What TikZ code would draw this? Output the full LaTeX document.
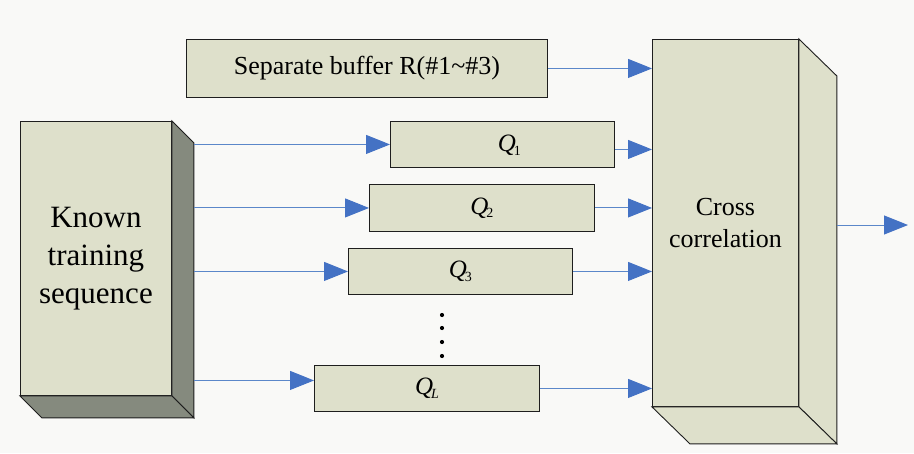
\documentclass[tikz,border=0pt]{standalone}
\usepackage{fontspec}
\setmainfont{Liberation Serif}
\newfontfamily\timesface{Liberation Serif}
\usetikzlibrary{arrows.meta,calc}
\definecolor{boxfill}{HTML}{DEE0CB}
\definecolor{boxdark}{HTML}{858A7E}
\definecolor{edge}{HTML}{1E1E1E}
\definecolor{wire}{HTML}{5B87C9}
\definecolor{tipblue}{HTML}{4472C4}
\definecolor{paper}{HTML}{F9F9F7}
\tikzset{
  block/.style={draw=edge, fill=boxfill, line width=0.9pt, rectangle,
    anchor=north west, inner sep=0pt},
  face/.style={draw=edge, line width=0.9pt, line join=miter},
  wirearrow/.style={draw=wire, line width=1pt,
    -{Triangle[length=24pt,width=19pt,color=tipblue]}},
  qlabel/.style={font=\timesface\fontsize{25}{26}\selectfont\itshape},
}
\newcommand{\qsub}[2]{#1\kern-2pt\raisebox{-0.3ex}{\fontsize{14}{14}\selectfont\upshape #2}}
\begin{document}
\begin{tikzpicture}[x=1pt,y=-1pt]
  % canvas
  \fill[paper] (0,0) rectangle (914,453);
  \useasboundingbox (0,0) rectangle (914,453);

  % known training sequence block, extruded to the lower right
  \node[block, minimum width=151pt, minimum height=274pt,
        font=\timesface\fontsize{31}{38}\selectfont, align=center] (known) at (20,121)
        {Known\\training\\sequence};
  \coordinate (kNE) at ($(known.north east)+(22,22)$);
  \coordinate (kSE) at ($(known.south east)+(22,22)$);
  \coordinate (kSW) at ($(known.south west)+(22,22)$);
  \filldraw[face, fill=boxdark] (known.north east) -- (kNE) -- (kSE) -- (known.south east) -- cycle;
  \filldraw[face, fill=boxdark] (known.south west) -- (known.south east) -- (kSE) -- (kSW) -- cycle;

  % cross correlation block, extruded to the lower right
  \node[block, minimum width=146pt, minimum height=367pt,
        font=\timesface\fontsize{26}{32}\selectfont, align=center] (cross) at (652,39)
        {Cross\\correlation};
  \coordinate (cNE) at ($(cross.north east)+(38,37)$);
  \coordinate (cSE) at ($(cross.south east)+(38,37)$);
  \coordinate (cSW) at ($(cross.south west)+(38,37)$);
  \filldraw[face, fill=boxfill] (cross.north east) -- (cNE) -- (cSE) -- (cross.south east) -- cycle;
  \filldraw[face, fill=boxfill] (cross.south west) -- (cross.south east) -- (cSE) -- (cSW) -- cycle;

  % buffers
  \node[block, minimum width=361pt, minimum height=58pt,
        font=\timesface\fontsize{26}{30}\selectfont] (sep) at (186,39)
        {Separate buffer R(\#1\char"007E\#3)};
  \node[block, minimum width=224pt, minimum height=46pt, qlabel, text depth=2pt] (q1) at (390,121) {\hspace{14pt}\qsub{Q}{1}};
  \node[block, minimum width=225pt, minimum height=47pt, qlabel] (q2) at (369,184) {\qsub{Q}{2}};
  \node[block, minimum width=224pt, minimum height=46pt, qlabel] (q3) at (348,248) {\qsub{Q}{3}};
  \node[block, minimum width=225pt, minimum height=46pt, qlabel] (qL) at (314,365) {\qsub{Q}{\itshape L}};

  % vertical ellipsis between Q3 and QL
  \foreach \yy in {315,328,342,356} \fill[black] (442,\yy) circle (2.1pt);

  % training sequence into each buffer
  \draw[wirearrow] (kNE |- q1.west) -- (q1.west);
  \draw[wirearrow] (kNE |- q2.west) -- (q2.west);
  \draw[wirearrow] (kNE |- q3.west) -- (q3.west);
  \draw[wirearrow] ($(kNE |- qL.west)+(0,-8)$) -- ($(qL.west)+(0,-8)$);

  % buffers into the correlator
  \draw[wirearrow] (sep.east) -- (cross.west |- sep.east);
  \draw[wirearrow] ($(q1.east)+(0,5)$) -- ($(cross.west |- q1.east)+(0,5)$);
  \draw[wirearrow] (q2.east) -- (cross.west |- q2.east);
  \draw[wirearrow] (q3.east) -- (cross.west |- q3.east);
  \draw[wirearrow] (qL.east) -- (cross.west |- qL.east);

  % correlator output
  \coordinate (outEnd) at (908,225);
  \draw[wirearrow] (cNE |- outEnd) -- (outEnd);
\end{tikzpicture}
\end{document}
